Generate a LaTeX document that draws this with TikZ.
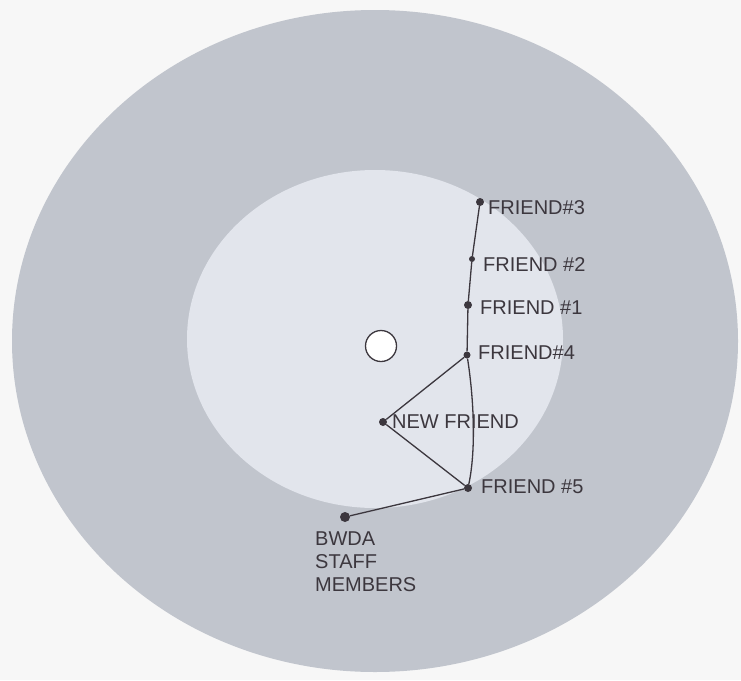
\documentclass[tikz,border=0pt]{standalone}
\usepackage{fontspec}
\setmainfont{Liberation Sans}
\definecolor{paper}{RGB}{247,247,247}
\definecolor{outerring}{RGB}{193,197,205}
\definecolor{innerring}{RGB}{226,229,236}
\definecolor{pen}{RGB}{60,55,62}
\tikzset{
  person/.style={circle, fill=pen, inner sep=0pt, minimum size=8pt},
  friendtag/.style={anchor=west, text=pen, font=\fontsize{20}{24}\selectfont, inner sep=1pt},
  tie/.style={draw=pen, line width=1.3pt}
}
\begin{document}
\begin{tikzpicture}[x=1pt, y=-1pt]
    % Paper and rings
    \fill[paper] (0,0) rectangle (741,680);
    \useasboundingbox (0,0) rectangle (741,680);
    \fill[outerring] (375,341) ellipse [x radius=363pt, y radius=331pt];
    \fill[innerring] (375,339) ellipse [x radius=188pt, y radius=169pt];
    \filldraw[fill=white, draw=pen, line width=1.3pt] (381,346) circle (15.5pt);

    % People
    \node[person] (f3) at (480,202) {};
    \node[person, minimum size=6pt] (f2) at (472,259) {};
    \node[person] (f1) at (468,305) {};
    \node[person, minimum size=7pt] (f4) at (467,355) {};
    \node[person] (nf) at (383,422) {};
    \node[person] (f5) at (468,488) {};
    \node[person, minimum width=10pt, minimum height=8pt] (staff) at (345,517) {};

    % Names
    \node[friendtag] (f3tag) at (487,208) {FRIEND\#3};
    \node[friendtag] (f2tag) at (482,265) {FRIEND \#2};
    \node[friendtag] (f1tag) at (479,308) {FRIEND \#1};
    \node[friendtag] (f4tag) at (477,353) {FRIEND\#4};
    \node[friendtag] (nftag) at (391,422) {NEW FRIEND};
    \node[friendtag] (f5tag) at (480,487) {FRIEND \#5};
    \node[friendtag, align=left, anchor=north west, font=\fontsize{20}{23}\selectfont] (stafftag) at (314,531) {BWDA\\STAFF\\MEMBERS};

    % Ties
    \draw[tie] (f3) -- (f2) -- (f1) -- (f4);
    \draw[tie] (f4) .. controls (474,400) and (476,450) .. (f5);
    \draw[tie] (f4) -- (nf) -- (f5);
    \draw[tie] (f5) -- (staff);

\end{tikzpicture}
\end{document}
